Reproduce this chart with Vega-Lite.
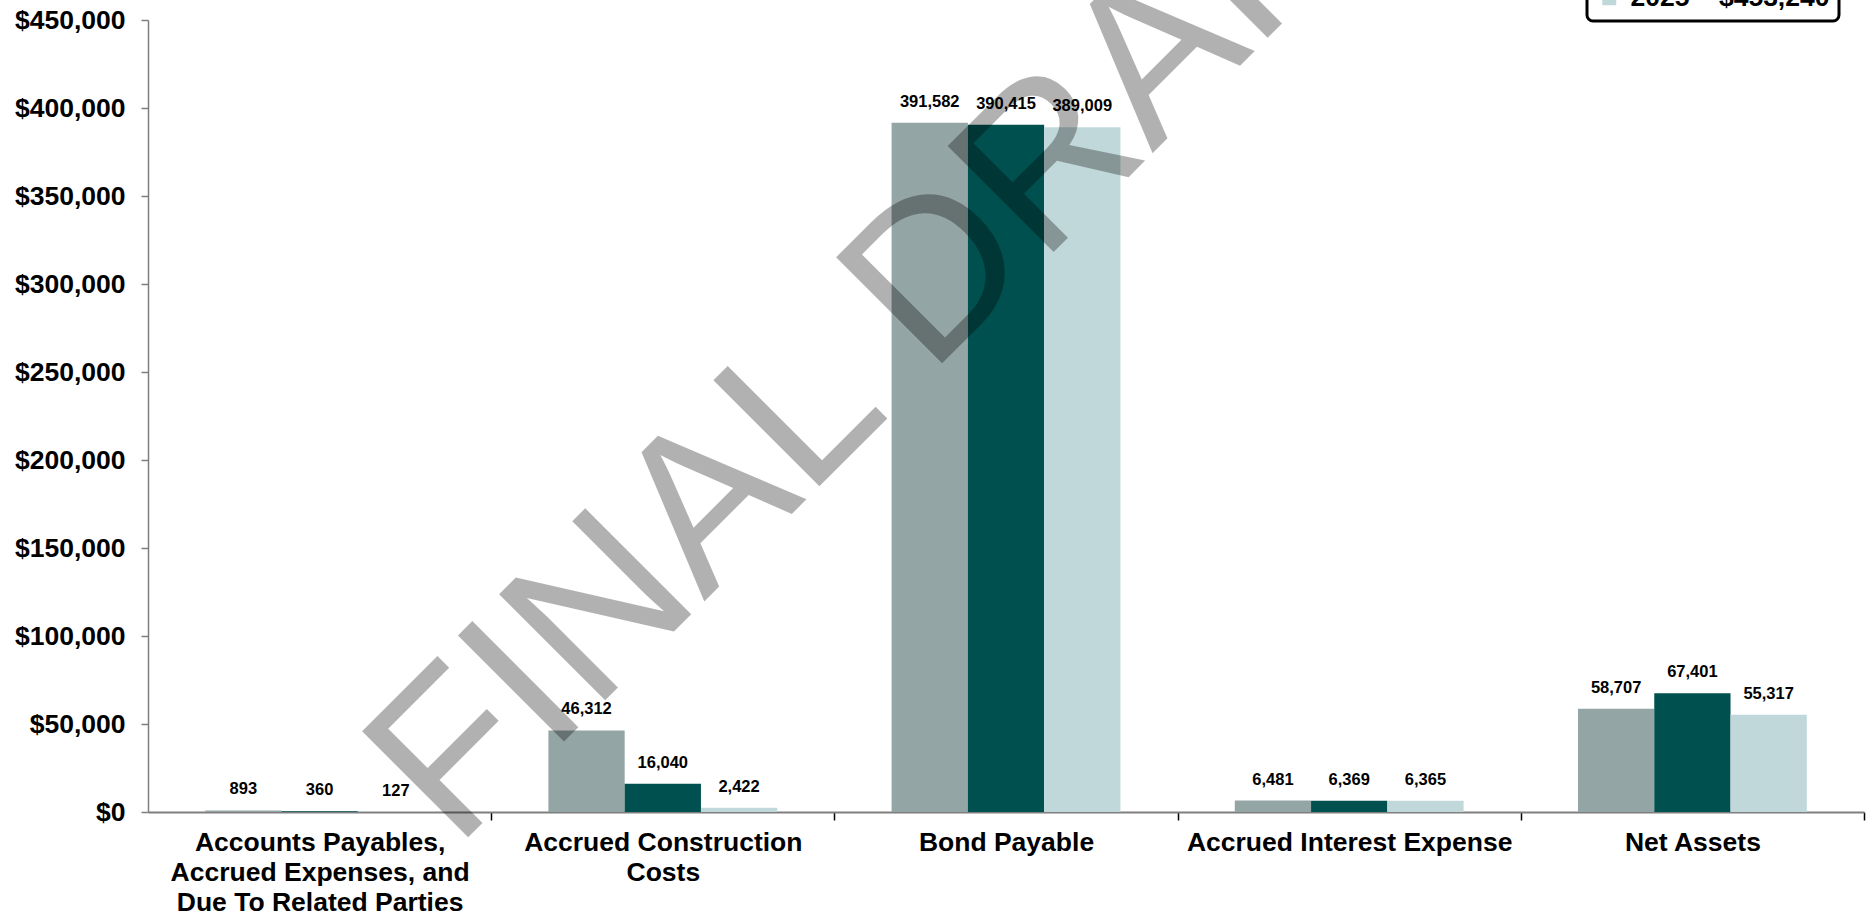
{
  "$schema": "https://vega.github.io/schema/vega-lite/v6.json",
  "autosize": {"type": "none"},
  "width": 1716,
  "height": 792,
  "padding": {"left": 148, "top": 20, "right": 7, "bottom": 109},
  "background": "#ffffff",
  "config": {
    "view": {"stroke": null},
    "font": "Liberation Sans",
    "legend": {"strokeWidth": 3, "cornerRadius": 6}
  },
  "datasets": {
    "main": [
      {"category": "Accounts Payables, Accrued Expenses, and Due To Related Parties", "series": "2023 – $503,975", "value": 893},
      {"category": "Accounts Payables, Accrued Expenses, and Due To Related Parties", "series": "2024 – $480,585", "value": 360},
      {"category": "Accounts Payables, Accrued Expenses, and Due To Related Parties", "series": "2025 – $453,240", "value": 127},
      {"category": "Accrued Construction Costs", "series": "2023 – $503,975", "value": 46312},
      {"category": "Accrued Construction Costs", "series": "2024 – $480,585", "value": 16040},
      {"category": "Accrued Construction Costs", "series": "2025 – $453,240", "value": 2422},
      {"category": "Bond Payable", "series": "2023 – $503,975", "value": 391582},
      {"category": "Bond Payable", "series": "2024 – $480,585", "value": 390415},
      {"category": "Bond Payable", "series": "2025 – $453,240", "value": 389009},
      {"category": "Accrued Interest Expense", "series": "2023 – $503,975", "value": 6481},
      {"category": "Accrued Interest Expense", "series": "2024 – $480,585", "value": 6369},
      {"category": "Accrued Interest Expense", "series": "2025 – $453,240", "value": 6365},
      {"category": "Net Assets", "series": "2023 – $503,975", "value": 58707},
      {"category": "Net Assets", "series": "2024 – $480,585", "value": 67401},
      {"category": "Net Assets", "series": "2025 – $453,240", "value": 55317}
    ],
    "watermark": [
      {"label": "FINAL DRAFT", "category": "Bond Payable", "value": 259000}
    ]
  },
  "layer": [
    {
      "data": {"name": "main"},
      "mark": {"type": "bar"},
      "encoding": {
        "x": {
          "field": "category",
          "type": "nominal",
          "sort": ["Accounts Payables, Accrued Expenses, and Due To Related Parties", "Accrued Construction Costs", "Bond Payable", "Accrued Interest Expense", "Net Assets"],
          "scale": {"paddingInner": 0.3333, "paddingOuter": 0.16667},
          "axis": {
            "title": null,
            "labelAngle": 0,
            "labelFont": "Liberation Sans",
            "labelFontSize": 26.5,
            "labelFontWeight": "bold",
            "labelColor": "#000000",
            "labelBaseline": "top",
            "labelLineHeight": 30,
            "labelPadding": 9,
            "labelLimit": 500,
            "labelExpr": "datum.value == 'Accounts Payables, Accrued Expenses, and Due To Related Parties' ? ['Accounts Payables,', 'Accrued Expenses, and', 'Due To Related Parties'] : datum.value == 'Accrued Construction Costs' ? ['Accrued Construction', 'Costs'] : datum.value",
            "domainColor": "#7f7f7f",
            "domainWidth": 2,
            "tickColor": "#000000",
            "tickWidth": 1.5,
            "tickSize": 8,
            "tickOffset": 171.6,
            "labelOffset": -171.6,
            "grid": false
          }
        },
        "y": {
          "field": "value",
          "type": "quantitative",
          "scale": {"domain": [0, 450000], "nice": false},
          "axis": {
            "title": null,
            "values": [0, 50000, 100000, 150000, 200000, 250000, 300000, 350000, 400000, 450000],
            "format": "$,.0f",
            "labelFont": "Liberation Sans",
            "labelFontSize": 26.5,
            "labelFontWeight": "bold",
            "labelColor": "#000000",
            "labelPadding": 16,
            "domainColor": "#7f7f7f",
            "domainWidth": 1.5,
            "tickColor": "#7f7f7f",
            "tickWidth": 1.5,
            "tickSize": 7,
            "grid": false
          }
        },
        "xOffset": {
          "field": "series",
          "type": "nominal",
          "sort": ["2023 – $503,975", "2024 – $480,585", "2025 – $453,240"],
          "scale": {"paddingInner": 0, "paddingOuter": 0}
        },
        "color": {
          "field": "series",
          "type": "nominal",
          "sort": ["2023 – $503,975", "2024 – $480,585", "2025 – $453,240"],
          "scale": {"range": ["#93a5a4", "#00504f", "#c1d8da"]},
          "legend": {
            "title": null,
            "orient": "none",
            "legendX": 1439,
            "legendY": -106,
            "direction": "vertical",
            "fillColor": "#ffffff",
            "strokeColor": "#000000",
            "padding": 9,
            "labelFont": "Liberation Sans",
            "labelFontSize": 26.5,
            "labelFontWeight": "bold",
            "labelColor": "#000000",
            "labelLimit": 400,
            "labelOffset": 8,
            "symbolType": "square",
            "symbolSize": 196,
            "symbolStrokeWidth": 0,
            "rowPadding": 4
          }
        }
      }
    },
    {
      "data": {"name": "main"},
      "mark": {"type": "text", "baseline": "alphabetic", "dy": -16, "font": "Liberation Sans", "fontSize": 16.5, "fontWeight": "bold", "color": "#000000"},
      "encoding": {
        "x": {"field": "category", "type": "nominal", "sort": ["Accounts Payables, Accrued Expenses, and Due To Related Parties", "Accrued Construction Costs", "Bond Payable", "Accrued Interest Expense", "Net Assets"]},
        "y": {"field": "value", "type": "quantitative"},
        "xOffset": {"field": "series", "type": "nominal", "sort": ["2023 – $503,975", "2024 – $480,585", "2025 – $453,240"]},
        "text": {"field": "value", "type": "quantitative", "format": ",.0f"}
      }
    },
    {
      "data": {"name": "watermark"},
      "mark": {"type": "text", "align": "center", "baseline": "alphabetic", "angle": -45, "font": "Liberation Sans", "fontSize": 218, "color": "#000000", "opacity": 0.3},
      "encoding": {
        "x": {"field": "category", "type": "nominal", "bandPosition": 0.253, "sort": ["Accounts Payables, Accrued Expenses, and Due To Related Parties", "Accrued Construction Costs", "Bond Payable", "Accrued Interest Expense", "Net Assets"]},
        "y": {"field": "value", "type": "quantitative"},
        "text": {"field": "label", "type": "nominal"}
      }
    }
  ]
}
